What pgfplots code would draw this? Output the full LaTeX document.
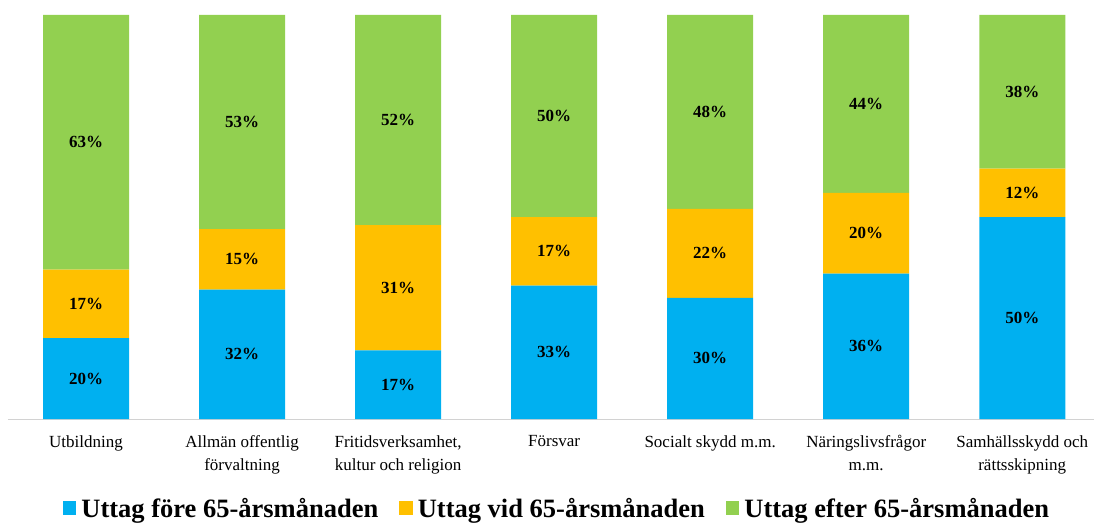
\documentclass[border=0pt]{standalone}
\usepackage{fontspec}
\setmainfont{Liberation Serif}
\usepackage{pgfplots}
\usepackage{pgfplotstable}
\pgfplotsset{compat=1.18}
\definecolor{cblue}{HTML}{00B0F0}
\definecolor{corange}{HTML}{FFC000}
\definecolor{cgreen}{HTML}{92D050}
\pgfplotstableread{
x a b c
0 20 17 63
1 32 15 53
2 17 31 52
3 33 17 50
4 30 22 48
5 36 20 44
6 50 12 38
}\data
\pgfplotsset{common/.style={
  at={(0pt,0pt)}, anchor=south west,
  scale only axis,
  width=1086pt, height=404pt,
  xmin=-0.5, xmax=6.46,
  ymin=0, ymax=100,
  axis y line=none,
}}
\begin{document}
\begin{tikzpicture}
\useasboundingbox (-8pt,-106pt) rectangle (1086pt,419pt);
\begin{axis}[
  common,
  ybar stacked,
  bar width=86pt,
  axis x line*=bottom,
  x axis line style={draw=gray!35, line width=0.8pt},
  xtick=data,
  xtick style={draw=none},
  xticklabels={Utbildning,{Allmän offentlig\\förvaltning},{Fritidsverksamhet,\\kultur och religion},Försvar,{Socialt skydd m.m.},{Näringslivsfrågor\\m.m.},{Samhällsskydd och\\rättsskipning}},
  xticklabel style={align=center, font=\fontsize{17}{23}\selectfont, yshift=-13pt},
  legend columns=3,
  legend style={draw=none, at={(0.5,-106pt)}, anchor=south, yshift=2pt, xshift=6pt, font=\bfseries\fontsize{26.5}{30}\selectfont,
    /tikz/every odd column/.append style={column sep=3pt},
    /tikz/every even column/.append style={column sep=19pt}},
  legend image code/.code={\fill[#1,draw=none] (0pt,-6.5pt) rectangle (13.5pt,7pt);},
]
\addplot+[fill=cblue, draw=none] table[x=x,y=a] {\data};
\addplot+[fill=corange, draw=none] table[x=x,y=b] {\data};
\addplot+[fill=cgreen, draw=none] table[x=x,y=c] {\data};
\legend{Uttag före 65-årsmånaden,Uttag vid 65-årsmånaden,Uttag efter 65-årsmånaden}
\end{axis}
\begin{axis}[
  common,
  axis x line=none,
  point meta=explicit,
  /pgf/number format/assume math mode=true,
  nodes near coords={\pgfmathprintnumber{\pgfplotspointmeta}\%},
  every node near coord/.append style={font=\bfseries\fontsize{17}{20}\selectfont, anchor=center, black, inner sep=0pt},
]
\addplot[only marks, mark=none] table[x=x, y expr=\thisrow{a}/2, meta=a] {\data};
\addplot[only marks, mark=none] table[x=x, y expr=\thisrow{a}+\thisrow{b}/2, meta=b] {\data};
\addplot[only marks, mark=none] table[x=x, y expr=\thisrow{a}+\thisrow{b}+\thisrow{c}/2, meta=c] {\data};
\end{axis}
\end{tikzpicture}
\end{document}
